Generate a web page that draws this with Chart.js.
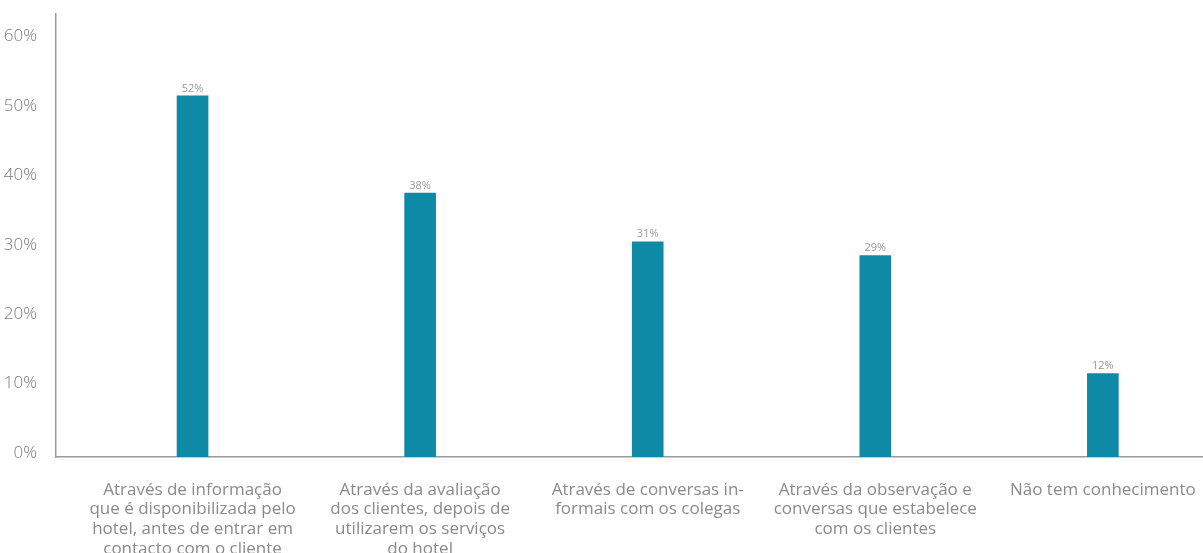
<!DOCTYPE html>
<html>
<head>
<meta charset="utf-8">
<script src="https://cdn.jsdelivr.net/npm/chart.js@4"></script>
<style>
  html, body { margin: 0; padding: 0; background: #ffffff; overflow: hidden; }
  #wrap { width: 1203px; height: 553px; position: relative; }
</style>
</head>
<body>
<div id="wrap"><canvas id="chart"></canvas></div>
<script>
// Categories (multi-line labels) and their shares
const categories = [
  ["Através de informação", "que é disponibilizada pelo", "hotel, antes de entrar em", "contacto com o cliente"],
  ["Através da avaliação", "dos clientes, depois de", "utilizarem os serviços", "do hotel"],
  ["Através de conversas in-", "formais com os colegas"],
  ["Através da observação e", "conversas que estabelece", "com os clientes"],
  ["Não tem conhecimento"]
];
const shares = [52, 38, 31, 29, 12];
const yTicks = [0, 10, 20, 30, 40, 50, 60];

const barColor = "#0f8aa6";
const axisColor = "#9a9a9a";
const textColor = "#8a8a8a";

// Percent labels above each bar
const valueLabels = {
  id: "valueLabels",
  afterDatasetsDraw(chart) {
    const ctx = chart.ctx;
    const meta = chart.getDatasetMeta(0);
    ctx.save();
    ctx.font = "11px 'Open Sans', sans-serif";
    ctx.fillStyle = "#999999";
    ctx.textAlign = "center";
    ctx.textBaseline = "bottom";
    meta.data.forEach((bar, i) => {
      ctx.fillText(shares[i] + "%", bar.x, bar.y - 2);
    });
    ctx.restore();
  }
};

new Chart(document.getElementById("chart"), {
  type: "bar",
  data: {
    datasets: [{
      data: shares.map((v, i) => ({ x: i, y: v })),
      backgroundColor: barColor,
      barThickness: 31,
      borderWidth: 0
    }]
  },
  options: {
    responsive: true,
    maintainAspectRatio: false,
    animation: false,
    layout: { padding: { top: 14, right: 0, left: 0, bottom: 0 } },
    plugins: { legend: { display: false }, tooltip: { enabled: false } },
    scales: {
      x: {
        type: "linear",
        offset: false,
        min: -0.6,
        max: 4.44,
        grid: { display: false },
        border: { display: true, color: axisColor, width: 1.5 },
        afterBuildTicks(scale) {
          scale.ticks = categories.map((c, i) => ({ value: i }));
        },
        afterFit(scale) {
          scale.height = 96;
          scale.paddingLeft = 0;
          scale.paddingRight = 0;
        },
        ticks: {
          autoSkip: false,
          maxRotation: 0,
          minRotation: 0,
          padding: 15,
          color: textColor,
          font: { family: "'Open Sans', sans-serif", size: 17, lineHeight: 1.16 },
          callback: (v) => categories[v] || ""
        }
      },
      y: {
        min: 0,
        max: 63.8,
        grid: { display: false },
        border: { display: true, color: axisColor, width: 1.5 },
        afterBuildTicks(scale) {
          scale.ticks = yTicks.map(v => ({ value: v }));
        },
        afterFit(scale) {
          scale.width = 56;
          scale.paddingTop = 0;
          scale.paddingBottom = 0;
        },
        ticks: {
          padding: 11,
          labelOffset: -4,
          color: "#7a7a7a",
          font: { family: "'Open Sans', sans-serif", size: 17, weight: 300 },
          callback: (v) => v + "%"
        }
      }
    }
  },
  plugins: [valueLabels]
});
</script>
</body>
</html>
